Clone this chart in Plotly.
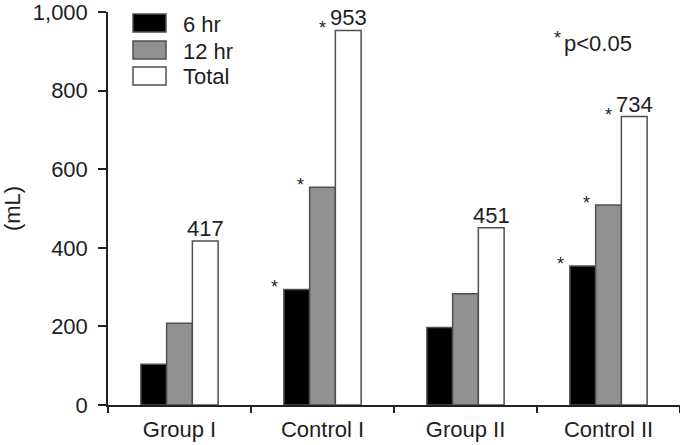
import plotly.graph_objects as go

categories = ["Group I", "Control I", "Group II", "Control II"]
hr6 = [104, 294, 197, 354]
hr12 = [208, 554, 283, 509]
total = [417, 953, 451, 734]
sig6 = [False, True, False, True]
sig12 = [False, True, False, True]
sigT = [False, True, False, True]
series_names = ["6 hr", "12 hr", "Total"]
fills = ["#000000", "#919191", "#ffffff"]
y_ticks = [0, 200, 400, 600, 800, 1000]

FONT = "Liberation Sans, Arial, sans-serif"
fs = 22
TXT = "#1e1e1e"

# plot area in pixels
L, R, T, B = 108, 680, 12, 405
FIG_W, FIG_H = 680, 445

def px(x):
    return (x - L) / (R - L)

def py(y):
    return (B - y) / (B - T)

fig = go.Figure()
for name, vals, col in zip(series_names, [hr6, hr12, total], fills):
    fig.add_trace(go.Bar(
        x=categories, y=vals, name=name,
        marker=dict(color=col, line=dict(color="#505050", width=1.5)),
        showlegend=False,
    ))

cat_px = (R - L) / len(categories)
bar_px = cat_px * (1 - 0.46) / 3
offsets = [-bar_px, 0, bar_px]

ann = []
# total value labels
for c, v in zip(categories, total):
    ann.append(dict(x=c, y=v, xref="x", yref="y", text=str(v), showarrow=False,
                    xshift=offsets[2], yanchor="bottom", yshift=-2,
                    font=dict(family=FONT, size=fs, color=TXT)))
# significance stars
for si, (vals, sig) in enumerate(zip([hr6, hr12, total], [sig6, sig12, sigT])):
    for c, v, s in zip(categories, vals, sig):
        if s:
            dx = offsets[si] - bar_px / 2 - (9 if si < 2 else 13)
            ann.append(dict(x=c, y=v, xref="x", yref="y", text="*", showarrow=False,
                            xshift=dx, yanchor="middle", yshift=2,
                            font=dict(family=FONT, size=18, color=TXT)))

# p-value note
ann.append(dict(x=px(557), y=py(38), xref="paper", yref="paper", text="*", showarrow=False,
                xanchor="center", yanchor="middle", font=dict(family=FONT, size=18, color=TXT)))
ann.append(dict(x=px(562), y=py(44), xref="paper", yref="paper", text="p<0.05", showarrow=False,
                xanchor="left", yanchor="middle", font=dict(family=FONT, size=fs, color=TXT)))

# manual legend
shapes = []
leg_y = [(14, 32), (41, 59), (67, 85)]
for (y0, y1), col, name in zip(leg_y, fills, series_names):
    shapes.append(dict(type="rect", xref="paper", yref="paper",
                       x0=px(133), x1=px(166), y0=py(y1), y1=py(y0),
                       fillcolor=col, line=dict(color="#505050", width=1.5)))
    ann.append(dict(x=px(181), y=py((y0 + y1) / 2 + 1), xref="paper", yref="paper", text=name,
                    showarrow=False, xanchor="left", yanchor="middle",
                    font=dict(family=FONT, size=fs, color=TXT)))

fig.update_layout(
    width=FIG_W, height=FIG_H,
    margin=dict(l=L, r=0, t=T, b=FIG_H - B, pad=0, autoexpand=False),
    paper_bgcolor="white", plot_bgcolor="white",
    barmode="group", bargap=0.46, bargroupgap=0,
    font=dict(family=FONT, size=fs, color=TXT),
    annotations=ann, shapes=shapes,
    xaxis=dict(type="category", showline=True, linecolor="#222", linewidth=1.5,
               ticks="outside", tickson="boundaries", ticklen=6, tickcolor="#222", tickwidth=1.5,
               showgrid=False, zeroline=False, ticklabelstandoff=4, automargin=False,
               tickfont=dict(family=FONT, size=fs, color=TXT)),
    yaxis=dict(range=[0, 1000], tickvals=y_ticks, tickformat=",", showline=True, linecolor="#222",
               linewidth=1.5, ticks="outside", ticklen=8, tickcolor="#222", tickwidth=1.5,
               showgrid=False, zeroline=False, ticklabelstandoff=6, ticklabeloverflow="allow",
               automargin=False,
               tickfont=dict(family=FONT, size=fs, color=TXT),
               title=dict(text="(mL)", standoff=22, font=dict(family=FONT, size=fs, color=TXT))),
)
fig.write_html("out.html")
